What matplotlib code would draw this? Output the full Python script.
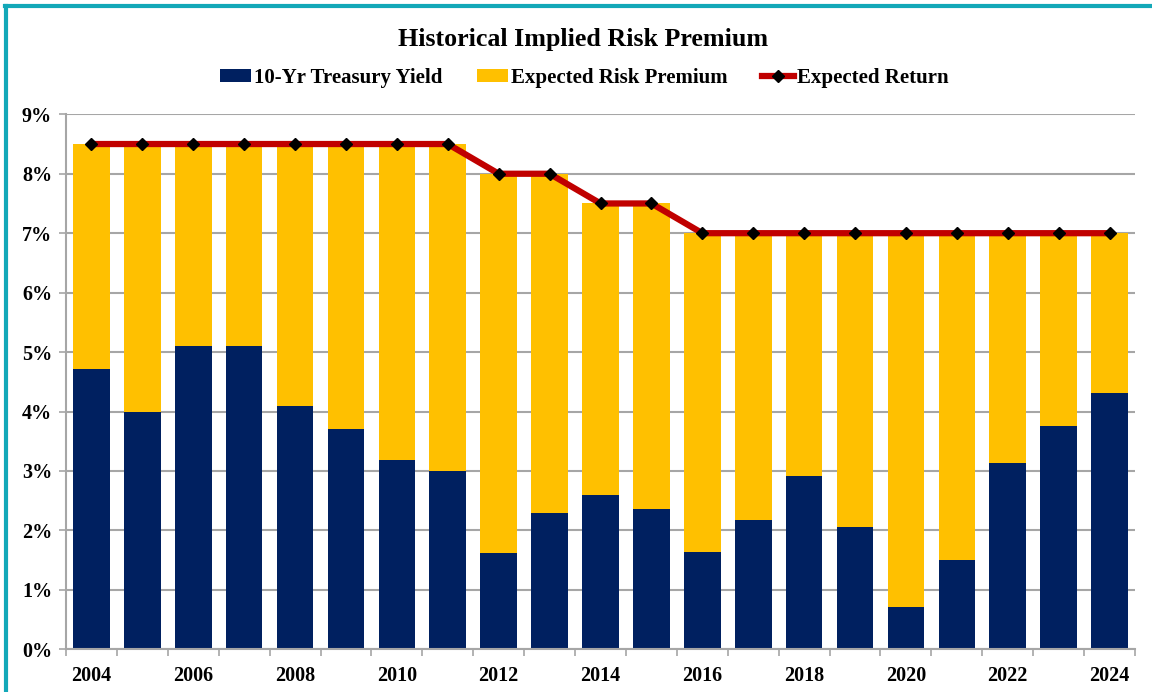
import matplotlib
matplotlib.use("Agg")
import matplotlib.pyplot as plt
import numpy as np
from matplotlib.lines import Line2D
from matplotlib.patches import Patch

plt.rcParams['font.family'] = ['Liberation Serif', 'DejaVu Serif']
plt.rcParams['font.weight'] = 'bold'

years = list(range(2004, 2025))
treasury_yield = [4.72, 4.00, 5.11, 5.10, 4.09, 3.71, 3.19, 3.00, 1.62, 2.29, 2.59,
                  2.36, 1.64, 2.18, 2.91, 2.06, 0.72, 1.51, 3.14, 3.75, 4.31]
expected_return = [8.5, 8.5, 8.5, 8.5, 8.5, 8.5, 8.5, 8.5, 8.0, 8.0, 7.5,
                   7.5, 7.0, 7.0, 7.0, 7.0, 7.0, 7.0, 7.0, 7.0, 7.0]
risk_premium = [er - ty for er, ty in zip(expected_return, treasury_yield)]
y_ticks = list(range(0, 10))
y_tick_labels = [f"{v}%" for v in y_ticks]

NAVY = '#002060'
YELLOW = '#FFC000'
RED = '#C00000'
GRID = '#A6A6A6'

fig = plt.figure(figsize=(11.52, 6.92), dpi=100)
ax = fig.add_axes([66/1152, 1-649.3/692, (1135-66)/1152, (649.3-114.3)/692])

x = np.arange(len(years))
w = 0.72
ax.bar(x, treasury_yield, width=w, color=NAVY, zorder=2)
ax.bar(x, risk_premium, width=w, bottom=treasury_yield, color=YELLOW, zorder=2)
ax.plot(x, expected_return, color=RED, lw=4.5, marker='D', markersize=6.5,
        markerfacecolor='black', markeredgecolor='black', zorder=4, solid_capstyle='butt')

ax.set_xlim(-0.5, len(years) - 0.5)
ax.set_ylim(0, 9)
ax.set_yticks(y_ticks)
ax.set_yticklabels(y_tick_labels, fontsize=14.5, fontweight='bold')
ax.yaxis.grid(True, color=GRID, lw=1.5, zorder=0)
ax.set_axisbelow(True)

ax.set_xticks(x[::2])
ax.set_xticklabels([str(y) for y in years[::2]], fontsize=14.5, fontweight='bold')
ax.set_xticks(np.arange(-0.5, len(years)), minor=True)
ax.tick_params(axis='x', which='major', length=0, pad=12)
ax.tick_params(axis='x', which='minor', length=5, color=GRID, width=1.2)
ax.tick_params(axis='y', length=5, color=GRID, width=1.2, pad=5)

for s in ['top', 'right']:
    ax.spines[s].set_visible(False)
for s in ['left', 'bottom']:
    ax.spines[s].set_color(GRID)
    ax.spines[s].set_linewidth(1.5)

fig.text(583/1152, 1-46/692, 'Historical Implied Risk Premium', ha='center', va='baseline',
         fontsize=18.7, fontweight='bold')

handles = [Patch(facecolor=NAVY, edgecolor='none'),
           Patch(facecolor=YELLOW, edgecolor='none'),
           Line2D([0], [0], color=RED, lw=4.5, marker='D', markersize=6.5,
                  markerfacecolor='black', markeredgecolor='black')]
labels = ['10-Yr Treasury Yield', 'Expected Risk Premium', 'Expected Return']
fig.legend(handles, labels, loc='center', bbox_to_anchor=(584/1152, 1-78/692), ncol=3,
           frameon=False, prop={'family': 'Liberation Serif', 'weight': 'bold', 'size': 15},
           handlelength=1.5, handleheight=0.6, handletextpad=0.15, columnspacing=1.65)

# teal border (top and left visible)
fig.add_artist(Line2D([5/1152, 1], [1-6/692, 1-6/692], color='#13A8B8', lw=3, transform=fig.transFigure))
fig.add_artist(Line2D([6/1152, 6/1152], [0, 1-6/692], color='#13A8B8', lw=3, transform=fig.transFigure))

fig.savefig('out.png', dpi=100)
